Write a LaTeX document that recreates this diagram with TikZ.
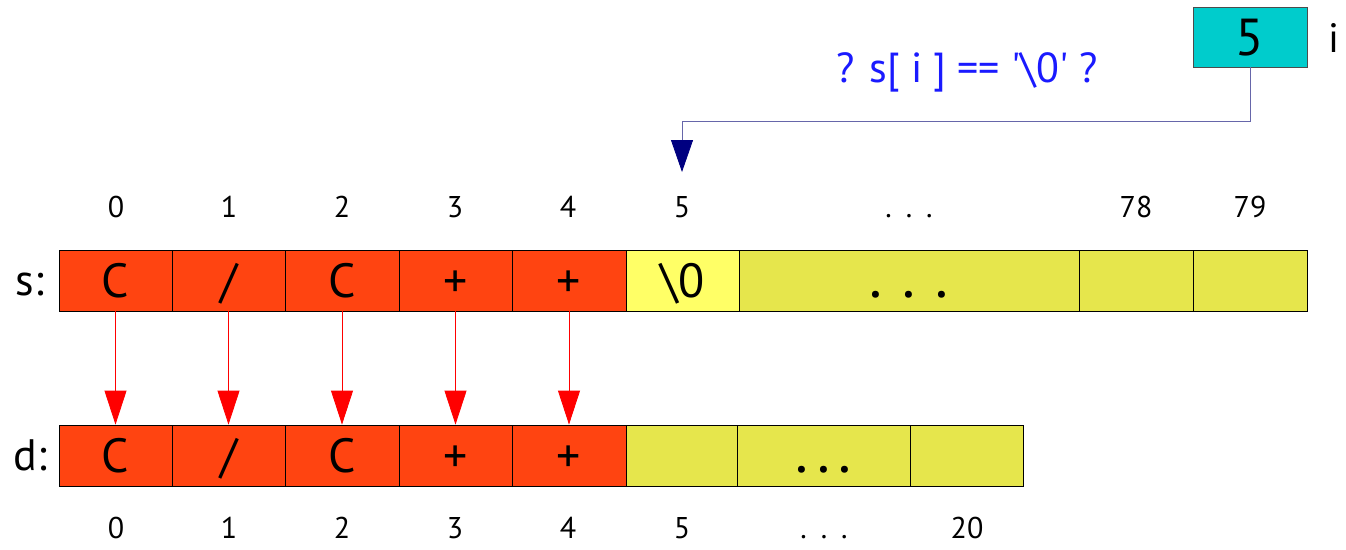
\documentclass[tikz,border=0pt]{standalone}
\usepackage{fontspec}
\setmainfont{PT Sans}
\usepackage{xcolor}
\usetikzlibrary{arrows.meta, positioning}

\definecolor{hot}{HTML}{FF4411}
\definecolor{nulcell}{HTML}{FFFF66}
\definecolor{free}{HTML}{E6E64C}
\definecolor{ibg}{HTML}{00CCCC}
\definecolor{ptrline}{HTML}{6666AA}
\definecolor{ptrhead}{HTML}{000080}
\definecolor{asktext}{HTML}{1A1AFF}

\newcommand{\celldots}[1]{{\fontsize{60}{60}\selectfont.\hspace{#1}.\hspace{#1}.}}
\newcommand{\idxdots}{.\hspace{14pt}.\hspace{14pt}.}

\tikzset{
    cell/.style={draw=black, line width=0.8pt, inner sep=0pt, minimum height=61,
        text height=33, text depth=0, font=\fontsize{48}{48}\selectfont},
    idx/.style={font=\fontsize{30}{30}\selectfont, inner sep=0pt, anchor=base},
    arrname/.style={font=\fontsize{44}{44}\selectfont, inner sep=0pt, anchor=base},
    copyarrow/.style={red, line width=0.8pt, -{Triangle[width=22pt,length=34pt]}},
}

\begin{document}
\begin{tikzpicture}[x=1pt, y=-1pt]
    \useasboundingbox (0,0) rectangle (1346,549);

    % 1. Mảng s
    \node[arrname] (sname) at (30,295) {s:};
    \foreach \l/\r/\t/\c [count=\k from 0] in
        {59/172/C/hot, 172/285/\slash/hot, 285/399/C/hot, 399/512/+/hot,
         512/626/+/hot, 626/739/{\textbackslash 0}/nulcell, 739/1079/{\celldots{20pt}}/free,
         1079/1193/{}/free, 1193/1307/{}/free}
        \node[cell, fill=\c, minimum width={\r-\l}] (s\k) at ({(\l+\r)/2},280.5) {\t};

    % 2. Mảng d
    \node[arrname] (dname) at (30,470) {d:};
    \foreach \l/\r/\t/\c [count=\k from 0] in
        {59/172/C/hot, 172/285/\slash/hot, 285/399/C/hot, 399/512/+/hot,
         512/626/+/hot, 626/737/{}/free, 737/910/{\celldots{9pt}}/free, 910/1023/{}/free}
        \node[cell, fill=\c, minimum width={\r-\l}] (d\k) at ({(\l+\r)/2},455.5) {\t};

    % 3. Chỉ số
    \foreach \x/\t [count=\k from 0] in
        {116/0, 229/1, 342/2, 455/3, 568/4, 682/5, 909/\idxdots, 1136/78, 1250/79}
        \node[idx] (si\k) at (\x,217) {\t};
    \foreach \x/\t [count=\k from 0] in
        {116/0, 229/1, 342/2, 455/3, 568/4, 682/5, 824/\idxdots, 967/20}
        \node[idx] (di\k) at (\x,538) {\t};

    % 4. Sao chép s -> d
    \foreach \k in {0,...,4}
        \draw[copyarrow] (s\k.south) -- (d\k.north);

    % 5. Biến i
    \node[draw=black!70, line width=0.8pt, fill=ibg, minimum width=114, minimum height=60,
        inner sep=0pt, text height=37, text depth=0, font=\fontsize{52}{52}\selectfont]
        (ibox) at (1250,37) {5};
    \node[arrname, font=\fontsize{41}{41}\selectfont] (iname) at (1334,52) {i};
    \node[font=\fontsize{42}{42}\selectfont, text=asktext, inner sep=0pt, anchor=base]
        (ask) at (967,82)
        {? s[ i ] == \textquotesingle\textbackslash 0\textquotesingle\ ?};
    \coordinate (ptr) at (682,172);
    \draw[ptrline, line width=0.8pt, -{Triangle[width=22pt,length=32pt,color=ptrhead]}]
        (ibox.south) -- ++(0,54) -| (ptr);
\end{tikzpicture}
\end{document}
